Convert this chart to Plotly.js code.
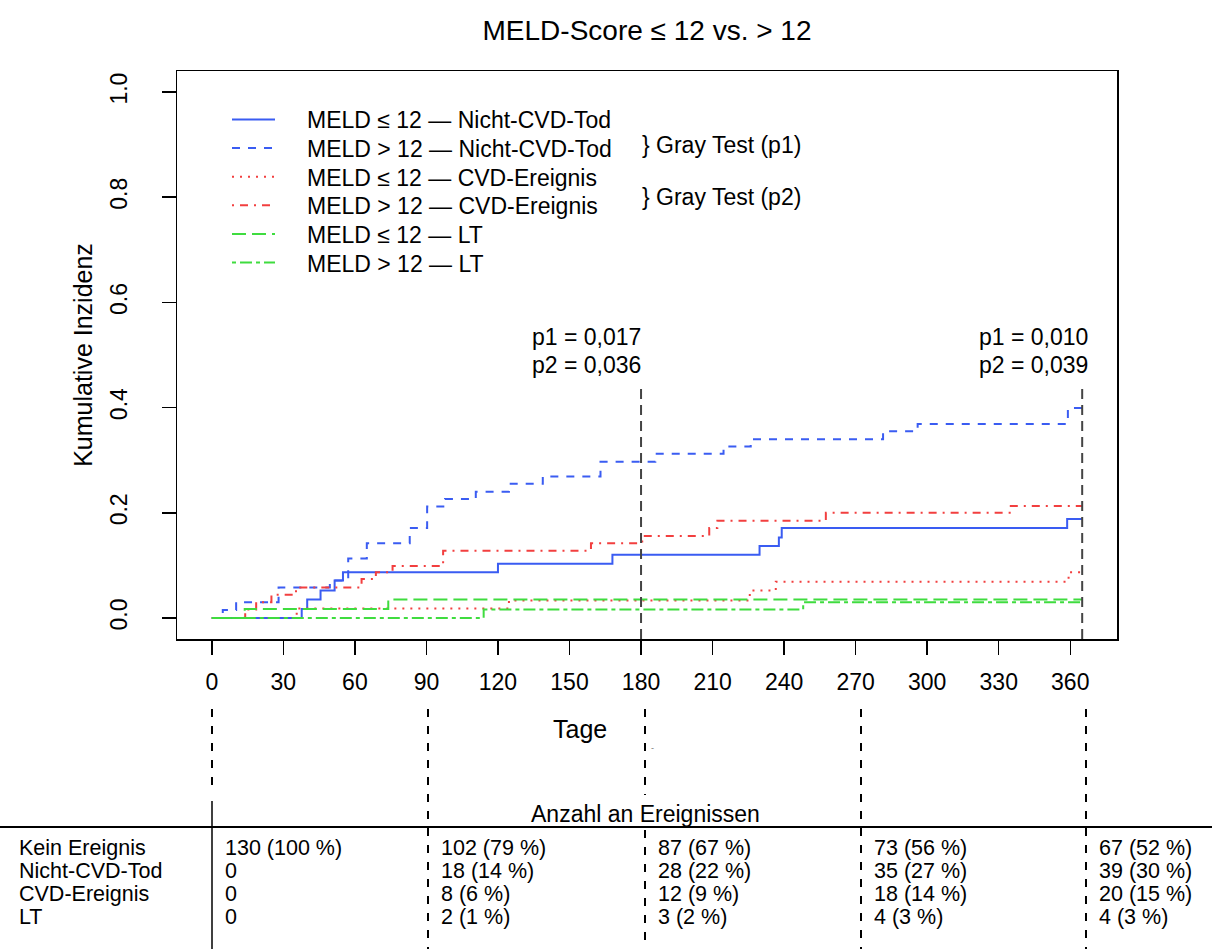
<!DOCTYPE html>
<html><head><meta charset="utf-8">
<script src="https://cdn.plot.ly/plotly-3.0.1.min.js"></script>
<style>html,body{margin:0;padding:0;background:#fff;}#chart{width:1212px;height:949px;}</style>
</head><body><div id="chart"></div>
<script>
// ---------------- data ----------------
const chartTitle = 'MELD-Score ≤ 12 vs. > 12';
const xTitle = 'Tage';
const yTitle = 'Kumulative Inzidenz';
const xTickVals = [0, 30, 60, 90, 120, 150, 180, 210, 240, 270, 300, 330, 360];
const yTickVals = [0, 0.2, 0.4, 0.6, 0.8, 1.0];
const yTickText = ['0.0', '0.2', '0.4', '0.6', '0.8', '1.0'];

const seriesLabels = [
  'MELD ≤ 12 — Nicht-CVD-Tod',
  'MELD > 12 — Nicht-CVD-Tod',
  'MELD ≤ 12 — CVD-Ereignis',
  'MELD > 12 — CVD-Ereignis',
  'MELD ≤ 12 — LT',
  'MELD > 12 — LT'
];

const daysLe12Death = [0, 37.7, 40, 45.6, 51.5, 55, 120, 168, 229.7, 237.8, 239, 358.7, 365];
const cifLe12Death  = [0, 0.017, 0.035, 0.052, 0.071, 0.087, 0.103, 0.120, 0.137, 0.153, 0.171, 0.188, 0.188];

const daysGt12Death = [0, 4.6, 10.2, 28, 49.5, 57.2, 65, 83, 90.3, 97.8, 110.7, 124.6, 138.8, 163, 186, 214.6, 226, 281.5, 296, 359, 365];
const cifGt12Death  = [0, 0.015, 0.030, 0.058, 0.071, 0.113, 0.142, 0.171, 0.212, 0.226, 0.240, 0.255, 0.269, 0.297, 0.312, 0.326, 0.340, 0.355, 0.369, 0.399, 0.399];

const daysLe12Cvd = [0, 35.6, 124.6, 225.6, 236.5, 359.3, 365];
const cifLe12Cvd  = [0, 0.018, 0.033, 0.052, 0.069, 0.087, 0.087];

const daysGt12Cvd = [0, 14, 18.6, 25, 35.3, 62.8, 68.8, 75.8, 97, 159, 180.5, 208.6, 212, 257.5, 334.6, 365];
const cifGt12Cvd  = [0, 0.016, 0.030, 0.044, 0.058, 0.074, 0.087, 0.099, 0.128, 0.142, 0.156, 0.171, 0.185, 0.200, 0.213, 0.213];

const daysLe12Lt = [0, 13.8, 74, 365];
const cifLe12Lt  = [0, 0.017, 0.035, 0.035];

const daysGt12Lt = [0, 114, 248, 365];
const cifGt12Lt  = [0, 0.016, 0.030, 0.030];

const grayTestLabels = ['} Gray Test (p1)', '} Gray Test (p2)'];
const testDays = [180, 365];
const p1Labels = ['p1 = 0,017', 'p1 = 0,010'];
const p2Labels = ['p2 = 0,036', 'p2 = 0,039'];

const tableTitle = 'Anzahl an Ereignissen';
const tableRowLabels = ['Kein Ereignis', 'Nicht-CVD-Tod', 'CVD-Ereignis', 'LT'];
const tableDays = [0, 90, 180, 270, 365];
const nNoEvent = [130, 102, 87, 73, 67];
const pctNoEvent = [100, 79, 67, 56, 52];
const nDeath = [0, 18, 28, 35, 39];
const pctDeath = [0, 14, 22, 27, 30];
const nCvd = [0, 8, 12, 18, 20];
const pctCvd = [0, 6, 9, 14, 15];
const nLt = [0, 2, 3, 4, 4];
const pctLt = [0, 1, 2, 3, 3];

// ---------------- styling / layout ----------------
const FONT = 'Liberation Sans, Arial, Helvetica, sans-serif';
const BLUE = '#3a5cf2', RED = '#f23f3f', GREEN = '#3fdc3f';
const styles = [
  {color: BLUE, dash: 'solid'},
  {color: BLUE, dash: '8px,8px'},
  {color: RED, dash: '2px,6px'},
  {color: RED, dash: '2px,6px,8px,6px'},
  {color: GREEN, dash: '14px,6px'},
  {color: GREEN, dash: '4px,4px,12px,4px'}
];
const seriesX = [daysLe12Death, daysGt12Death, daysLe12Cvd, daysGt12Cvd, daysLe12Lt, daysGt12Lt];
const seriesY = [cifLe12Death, cifGt12Death, cifLe12Cvd, cifGt12Cvd, cifLe12Lt, cifGt12Lt];

const W = 1212, H = 949;
const M = {l: 177, r: 95, t: 71, b: 310};
const PW = W - M.l - M.r, PH = H - M.t - M.b;
const px2x = p => (p - M.l) / PW;
const py2y = p => (H - M.b - p) / PH;

const traces = seriesX.map((xs, i) => ({
  x: xs, y: seriesY[i], type: 'scatter', mode: 'lines', name: seriesLabels[i],
  line: {shape: 'hv', color: styles[i].color, dash: styles[i].dash, width: 2},
  showlegend: false, hoverinfo: 'skip'
}));

const shapes = [];
const annotations = [];
const txt = (x, y, text, anchor, size, extra) => Object.assign({xref: 'paper', yref: 'paper', x: x, y: y, text: text,
  xanchor: anchor, yanchor: 'middle', showarrow: false, font: {family: FONT, size: size, color: '#000'}}, extra || {});

// reference lines at test days
testDays.forEach(d => {
  shapes.push({type: 'line', xref: 'x', yref: 'y', x0: d, x1: d, y0: -0.04, y1: 0.44,
    line: {color: '#444444', width: 2, dash: '10px,6px'}});
});
// p-value texts
const pShift = [2, 8];
testDays.forEach((d, i) => {
  annotations.push(txt(d, py2y(337), p1Labels[i], 'right', 23, {xref: 'x', xshift: pShift[i]}));
  annotations.push(txt(d, py2y(365), p2Labels[i], 'right', 23, {xref: 'x', xshift: pShift[i]}));
});

// manual legend
seriesLabels.forEach((lab, i) => {
  const yc = 120.5 + i * 28.6;
  shapes.push({type: 'line', xref: 'paper', yref: 'paper', x0: px2x(232), x1: px2x(275), y0: py2y(yc - 1), y1: py2y(yc - 1),
    line: {color: styles[i].color, dash: styles[i].dash, width: 2}});
  annotations.push(txt(px2x(305), py2y(yc), lab, 'left', 23));
});
[145, 197].forEach((yc, i) => {
  annotations.push(txt(px2x(640), py2y(yc), grayTestLabels[i], 'left', 23));
});

// x axis title (placed as in reference, left of centre)
annotations.push(txt(px2x(580), py2y(729), xTitle, 'center', 25));
// small stray mark
annotations.push(txt(px2x(652), py2y(748), '-', 'center', 9, {font: {family: FONT, size: 9, color: '#777'}}));

// table
const colPx = [212, 428, 645, 861, 1086];
const tableTopPx = 709, lineYPx = 827;
const vseg = (cx, a, b, dashed, w) => shapes.push({type: 'line', xref: 'paper', yref: 'paper',
  x0: px2x(cx), x1: px2x(cx), y0: py2y(a), y1: py2y(b),
  line: {color: '#000', width: w, dash: dashed ? '8px,9px' : 'solid'}});
colPx.forEach((cx, j) => {
  if (j === 0) { vseg(cx, tableTopPx, 792, true, 2); vseg(cx, 801, H, false, 1.5); }
  else if (j === 2) { vseg(cx, tableTopPx, 795, true, 2); vseg(cx, 830, H, true, 2); }
  else { vseg(cx, tableTopPx, H, true, 2); }
});
shapes.push({type: 'line', xref: 'paper', yref: 'paper', x0: px2x(0), x1: px2x(W), y0: py2y(lineYPx), y1: py2y(lineYPx),
  line: {color: '#000', width: 2}});
annotations.push(txt(px2x(645), py2y(814), tableTitle, 'center', 23));

const rowsN = [nNoEvent, nDeath, nCvd, nLt];
const rowsP = [pctNoEvent, pctDeath, pctCvd, pctLt];
const rowY = [847.5, 870.8, 894.1, 917.4];
const TF = 21.5;
tableRowLabels.forEach((lab, r) => {
  annotations.push(txt(px2x(17), py2y(rowY[r]), lab, 'left', TF));
  tableDays.forEach((d, j) => {
    const n = rowsN[r][j];
    const s = n === 0 ? '0' : n + ' (' + rowsP[r][j] + ' %)';
    annotations.push(txt(px2x(colPx[j] + 11), py2y(rowY[r]), s, 'left', TF));
  });
});

const layout = {
  width: W, height: H,
  margin: M,
  paper_bgcolor: '#fff', plot_bgcolor: '#fff',
  font: {family: FONT, size: 23, color: '#000'},
  title: {text: chartTitle, x: px2x(647), xref: 'paper', xanchor: 'center', y: 1 - 30 / H, yanchor: 'middle',
    font: {family: FONT, size: 28, color: '#000'}},
  xaxis: {range: [-14.6, 379.6], tickvals: xTickVals, ticks: 'outside', ticklen: 14, tickwidth: 1.5, tickcolor: '#000',
    showline: true, mirror: true, linecolor: '#000', linewidth: 1.5, showgrid: false, zeroline: false,
    tickfont: {family: FONT, size: 23, color: '#000'}, ticklabelstandoff: 8},
  yaxis: {range: [-0.04, 1.04], tickvals: yTickVals, ticktext: yTickText, tickangle: -90, ticks: 'outside', ticklen: 14,
    tickwidth: 1.5, tickcolor: '#000', showline: true, mirror: true, linecolor: '#000', linewidth: 1.5,
    showgrid: false, zeroline: false, tickfont: {family: FONT, size: 23, color: '#000'}, ticklabelstandoff: 25,
    title: {text: yTitle, font: {family: FONT, size: 25, color: '#000'}, standoff: 6}},
  shapes: shapes,
  annotations: annotations,
  showlegend: false
};

Plotly.newPlot('chart', traces, layout, {displayModeBar: false, staticPlot: true});
</script>
</body></html>
